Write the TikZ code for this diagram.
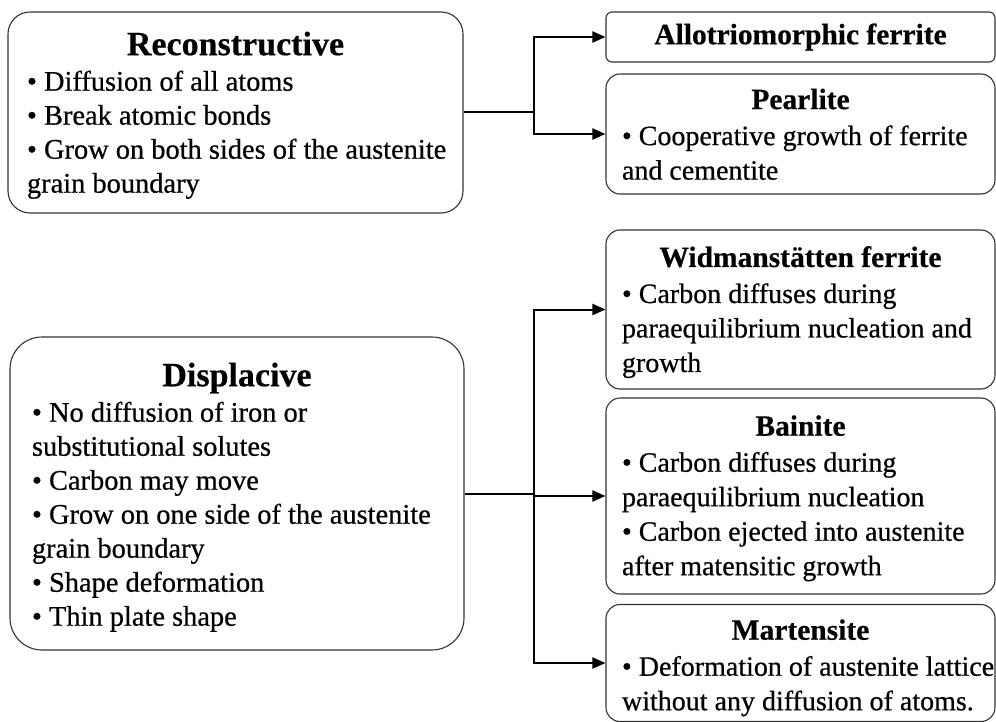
\documentclass[tikz,border=0pt]{standalone}
\usepackage{fontspec}
\setmainfont{Liberation Serif}[UprightFeatures={FakeBold=0.6}, BoldFeatures={FakeBold=0.4}]
\usetikzlibrary{arrows.meta}
\newcommand\bodyline[1]{\noindent\mbox{\spaceskip=0pt\xspaceskip=0pt\relax #1}\par}
\newcommand\boxtitle[3]{\noindent\makebox[\hsize][c]{\spaceskip=0pt\xspaceskip=0pt\relax\rule{0pt}{#2pt}\fontsize{#1}{#1}\selectfont\bfseries #3}\par\vspace{1.5pt}}
\tikzset{
  bx/.style={draw=black!80, line width=1.1pt, rounded corners=#1, inner sep=0pt,
    align=left, fill=white},
  lbx/.style={bx=#1, font=\fontsize{28.4}{34}\selectfont},
  rbx/.style={bx=#1, font=\fontsize{28}{34.5}\selectfont, minimum width=389pt, text width=357pt},
  conn/.style={line width=2pt, black},
  arr/.style={conn, -{Triangle[length=13pt,width=11pt]}}
}
\begin{document}
\begin{tikzpicture}[x=1pt,y=-1pt]
\useasboundingbox (0,0) rectangle (996,722);
\fill[white] (0,0) rectangle (996,722);

\node[lbx=22pt, minimum width=455pt, minimum height=201pt, text width=417pt] (reco) at (235.5,112.5) {%
\boxtitle{34}{29}{Reconstructive}%
\bodyline{• Diffusion of all atoms}%
\bodyline{• Break atomic bonds}%
\bodyline{• Grow on both sides of the austenite}%
\bodyline{grain boundary}};

\node[lbx=32pt, minimum width=454pt, minimum height=313pt, text width=410pt] (disp) at (237,493.5) {%
\boxtitle{34}{31}{Displacive}%
\bodyline{• No diffusion of iron or}%
\bodyline{substitutional solutes}%
\bodyline{• Carbon may move}%
\bodyline{• Grow on one side of the austenite}%
\bodyline{grain boundary}%
\bodyline{• Shape deformation}%
\bodyline{• Thin plate shape}};

\node[rbx=6pt, minimum height=50pt] (allo) at (800.5,37) {%
\noindent\makebox[\hsize][c]{\spaceskip=0pt\relax\fontsize{29.5}{29.5}\selectfont\bfseries Allotriomorphic ferrite}};

\node[rbx=14pt, minimum height=120pt] (pearl) at (800.5,134) {%
\boxtitle{29.5}{21}{Pearlite}%
\bodyline{• Cooperative growth of ferrite}%
\bodyline{and cementite}};

\node[rbx=14pt, minimum height=159pt] (widm) at (800.5,309.5) {%
\boxtitle{29.5}{26}{Widmanstätten ferrite}%
\bodyline{• Carbon diffuses during}%
\bodyline{paraequilibrium nucleation and}%
\bodyline{growth}};

\node[rbx=14pt, minimum height=196pt] (bain) at (800.5,496) {%
\boxtitle{29.5}{25}{Bainite}%
\bodyline{• Carbon diffuses during}%
\bodyline{paraequilibrium nucleation}%
\bodyline{• Carbon ejected into austenite}%
\bodyline{after matensitic growth}};

\node[rbx=14pt, minimum height=117pt] (mart) at (800.5,663) {%
\boxtitle{29.5}{30}{Martensite}%
\bodyline{• Deformation of austenite lattice}%
\bodyline{without any diffusion of atoms.}};

\coordinate (j1) at (534,0 |- reco.east);
\coordinate (j2) at (534,0 |- disp.east);
\draw[conn] (reco.east) -- (j1);
\draw[arr] (j1) |- (allo.west);
\draw[arr] (j1) |- (pearl.west);
\draw[conn] (disp.east) -- (j2);
\draw[arr] (j2) |- (widm.west);
\draw[arr] (j2) |- (bain.west);
\draw[arr] (j2) |- (mart.west);
\end{tikzpicture}
\end{document}
